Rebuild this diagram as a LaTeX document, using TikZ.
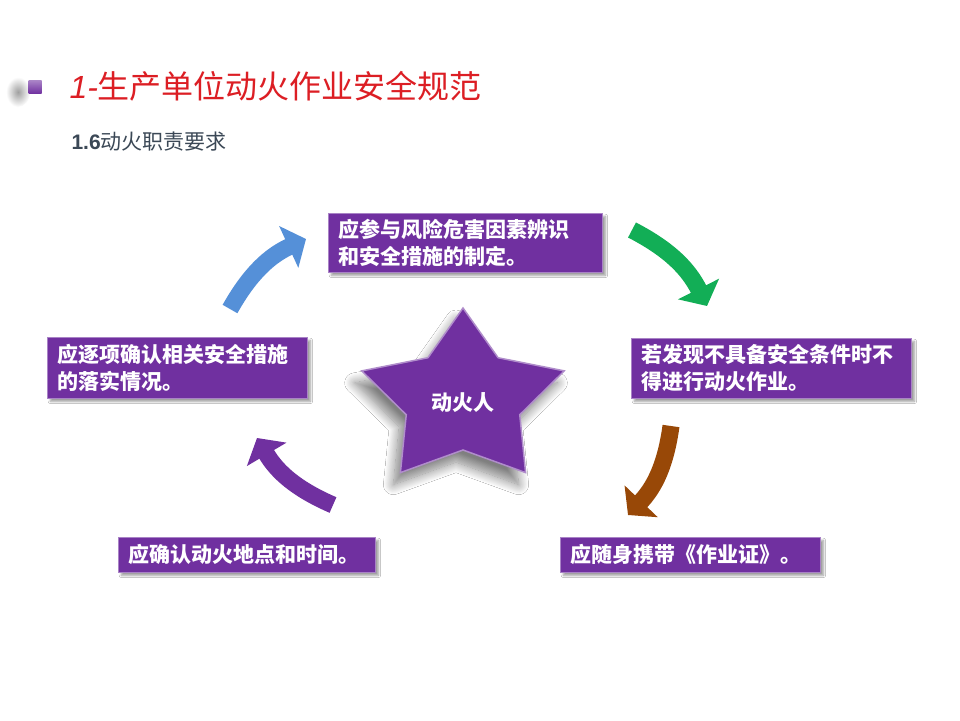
\documentclass[tikz,border=0pt]{standalone}
\usepackage{fontspec}
\setmainfont{Noto Sans CJK SC}
\newfontfamily\latin{Liberation Sans}
\usetikzlibrary{arrows.meta,shadows.blur}
\definecolor{vio}{HTML}{7030A0}
\definecolor{titlered}{HTML}{DC1E24}
\definecolor{slate}{HTML}{3B4856}
\definecolor{arrblue}{HTML}{5590D8}
\definecolor{arrgreen}{HTML}{12AE56}
\definecolor{arrbrown}{HTML}{984807}
\begin{document}
\begin{tikzpicture}[x=1pt,y=-1pt,
    box/.style={fill=vio, draw=vio!60!white, line width=.8pt, text=white,
        font=\bfseries\fontsize{21}{27}\selectfont, align=left, anchor=north west,
        inner xsep=10pt,
        blur shadow={shadow xshift=3pt, shadow yshift=-3pt, shadow blur steps=6, shadow opacity=40}},
    flow/.style={line width=17pt, draw=#1, -{Triangle[width=45pt,length=19pt]}, bend left=18},
    starbody/.style={fill=vio, draw=vio!55!white, line width=1.5pt,
        blur shadow={shadow xshift=-7pt, shadow yshift=-12pt, shadow blur radius=10pt,
            shadow blur steps=16, shadow opacity=50}}]
    \useasboundingbox[fill=white] (0,0) rectangle (960,720);

    % heading
    \shade[inner color=gray!75, outer color=white] (18,92) ellipse (12 and 15);
    \node[minimum size=13pt, inner sep=0pt, top color=vio!60!white, bottom color=vio] (dot) at (35,87) {};
    \node[anchor=west, text=titlered, font=\fontsize{32}{34}\selectfont] (title) at (66,86)
        {{\latin\itshape 1-}生产单位动火作业安全规范};
    \node[anchor=west, text=slate, font=\fontsize{21}{24}\selectfont] (sub) at (68,142)
        {{\latin\bfseries 1.6}动火职责要求};

    % star in the middle
    \path[starbody, shift={(463,399)}] plot[samples at={0,...,9}]
        ({1.17*(71+20*cos(180*\x))*cos(270+36*\x)}, {(71+20*cos(180*\x))*sin(270+36*\x)}) -- cycle;
    \node[text=white, font=\bfseries\fontsize{21}{24}\selectfont] (fire) at (463,403) {动火人};

    % the five duties
    \node[box, minimum width=274pt, minimum height=59pt, text width=254pt] (q1) at (328,213)
        {应参与风险危害因素辨识\\和安全措施的制定。};
    \node[box, minimum width=280pt, minimum height=60pt, text width=260pt] (q2) at (631,338)
        {若发现不具备安全条件时不\\得进行动火作业。};
    \node[box, minimum width=260pt, minimum height=35pt, text width=240pt] (q3) at (560,537)
        {应随身携带《作业证》。};
    \node[box, minimum width=257pt, minimum height=35pt, text width=237pt] (q4) at (118,537)
        {应确认动火地点和时间。};
    \node[box, minimum width=260pt, minimum height=61pt, text width=240pt] (q5) at (47,337)
        {应逐项确认相关安全措施\\的落实情况。};

    % curved arrows, clockwise
    \coordinate (a1) at (230,309); \coordinate (a2) at (306,239);
    \coordinate (b1) at (632,230); \coordinate (b2) at (707,306);
    \coordinate (c1) at (671,426); \coordinate (c2) at (628,515);
    \coordinate (d1) at (333,505); \coordinate (d2) at (257,438);
    \draw[flow=arrblue] (a1) to (a2);
    \draw[flow=arrgreen] (b1) to (b2);
    \draw[flow=arrbrown] (c1) to (c2);
    \draw[flow=vio] (d1) to (d2);
\end{tikzpicture}
\end{document}
